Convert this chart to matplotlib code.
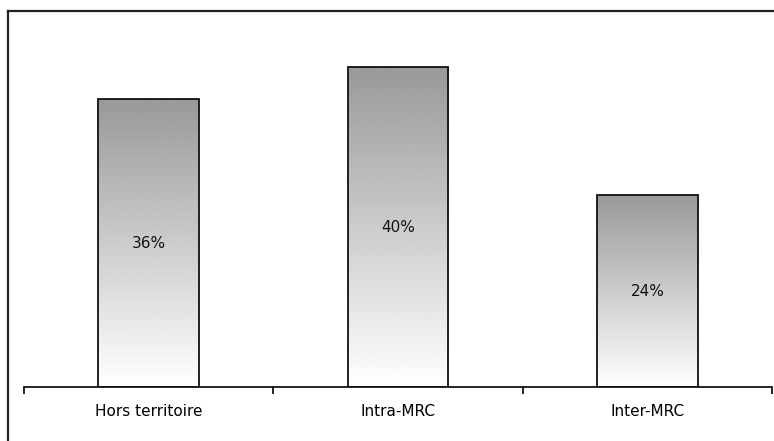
import numpy as np
import matplotlib.pyplot as plt
from matplotlib.lines import Line2D

categories = ['Hors territoire', 'Intra-MRC', 'Inter-MRC']
values = [36, 40, 24]
labels = ['36%', '40%', '24%']

W, H = 774, 441
fig = plt.figure(figsize=(W / 100, H / 100), dpi=100)

# outer frame (top and left edges only visible)
fig.add_artist(Line2D([7.5 / W, 1.0], [1 - 10.5 / H, 1 - 10.5 / H], color='#222222', lw=1.6))
fig.add_artist(Line2D([7.5 / W, 7.5 / W], [0.0, 1 - 10.5 / H], color='#222222', lw=1.6))

ax = fig.add_axes([24 / W, 1 - 387 / H, (772 - 24) / W, (387 - 27) / H])
x = np.arange(len(categories))
bars = ax.bar(x, values, width=0.405, color='none', edgecolor='#111111', linewidth=1.3, zorder=3)

# vertical grey-to-white gradient inside each bar
grad = np.linspace(1.0, 0.6, 256).reshape(-1, 1)
for b in bars:
    x0, y0 = b.get_x(), b.get_y()
    im = ax.imshow(grad, cmap='gray', vmin=0, vmax=1, aspect='auto',
                   extent=[x0, x0 + b.get_width(), y0, y0 + b.get_height()],
                   origin='lower', zorder=2, interpolation='bilinear')
    im.set_clip_path(b)

for xi, v, lab in zip(x, values, labels):
    ax.text(xi, v / 2, lab, ha='center', va='center', fontsize=11, color='#111111', zorder=4)

ax.set_xlim(-0.5, 2.5)
ax.set_ylim(0, 45)
for s in ['top', 'right', 'left']:
    ax.spines[s].set_visible(False)
ax.spines['bottom'].set_linewidth(1.2)
ax.set_yticks([])
ax.set_xticks([-0.5, 0.5, 1.5, 2.5])
ax.set_xticklabels([])
ax.tick_params(axis='x', length=5, width=1.2, direction='out')
ax.set_xticks(x, minor=True)
ax.set_xticklabels(categories, minor=True, fontsize=11)
ax.tick_params(axis='x', which='minor', length=0, pad=12)

fig.savefig('out.png', dpi=100)
